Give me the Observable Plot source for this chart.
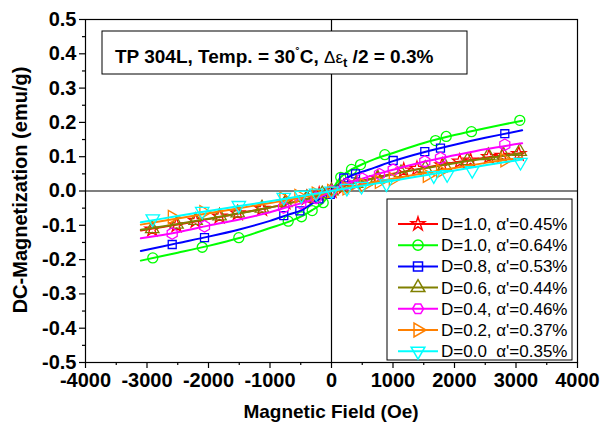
<!DOCTYPE html>
<html>
<head>
<meta charset="utf-8">
<script src="https://cdn.jsdelivr.net/npm/d3@7"></script>
<script src="https://cdn.jsdelivr.net/npm/@observablehq/plot@0.6"></script>
<style>
  body { margin: 0; background: white; }
  svg text { font-family: Arial, "Liberation Sans", sans-serif; }
</style>
</head>
<body>
<script>
// ---- tick values ----
const xTicks = [-4000, -3000, -2000, -1000, 0, 1000, 2000, 3000, 4000];
const xMinor = [-3500, -2500, -1500, -500, 500, 1500, 2500, 3500];
const yTicks = [-0.5, -0.4, -0.3, -0.2, -0.1, 0.0, 0.1, 0.2, 0.3, 0.4, 0.5];
const yMinor = [-0.45, -0.35, -0.25, -0.15, -0.05, 0.05, 0.15, 0.25, 0.35, 0.45];

// ---- series labels / styles ----
const seriesNames = ["D=1.0, α'=0.45%", "D=1.0, α'=0.64%", "D=0.8, α'=0.53%", "D=0.6, α'=0.44%", "D=0.4, α'=0.46%", "D=0.2, α'=0.37%", "D=0.0  α'=0.35%"];
const seriesColors = ["#ff0000", "#00ff00", "#0000ff", "#808000", "#ff00ff", "#ff8000", "#00ffff"];
const seriesSymbols = ["star", "circle", "square", "triangle", "hexagon", "triangle", "triangle"];
const seriesRotate = [0, 0, 0, 0, 0, 90, 180];

// ---- fitted curves ----
const fitH = [-3100, -2500, -2000, -1500, -1000, -700, -500, -300, -150, 0, 150, 300, 500, 700, 1000, 1500, 2000, 2500, 3100];
const fitRed     = [-0.115, -0.098, -0.082, -0.065, -0.048, -0.036, -0.028, -0.018, -0.010, 0, 0.011, 0.020, 0.030, 0.038, 0.050, 0.067, 0.083, 0.097, 0.111];
const fitGreen   = [-0.203, -0.180, -0.160, -0.137, -0.108, -0.090, -0.075, -0.054, -0.036, 0, 0.040, 0.060, 0.078, 0.093, 0.111, 0.140, 0.163, 0.183, 0.205];
const fitBlue    = [-0.175, -0.152, -0.133, -0.112, -0.087, -0.069, -0.057, -0.035, -0.018, 0.002, 0.025, 0.043, 0.056, 0.068, 0.087, 0.113, 0.135, 0.155, 0.177];
const fitOlive   = [-0.113, -0.096, -0.081, -0.065, -0.048, -0.036, -0.028, -0.018, -0.010, 0, 0.011, 0.020, 0.029, 0.037, 0.049, 0.066, 0.081, 0.095, 0.110];
const fitMagenta = [-0.138, -0.120, -0.101, -0.083, -0.062, -0.046, -0.036, -0.025, -0.014, 0, 0.014, 0.025, 0.036, 0.047, 0.062, 0.085, 0.104, 0.122, 0.139];
const fitOrange  = [-0.098, -0.080, -0.065, -0.050, -0.035, -0.026, -0.019, -0.012, -0.006, 0, 0.006, 0.012, 0.019, 0.026, 0.036, 0.052, 0.067, 0.082, 0.097];
const fitCyan    = [-0.091, -0.073, -0.058, -0.044, -0.030, -0.021, -0.015, -0.009, -0.005, 0, 0.005, 0.009, 0.015, 0.021, 0.030, 0.045, 0.060, 0.075, 0.092];

const redH = [-2915, -2520, -2210, -1820, -1525, -1130, -750, -400, -200, 0, 200, 400, 750, 1175, 1390, 1800, 2085, 2260, 2560, 2775, 3045];
const redM = [-0.112, -0.100, -0.087, -0.074, -0.065, -0.052, -0.033, -0.020, -0.010, 0, 0.012, 0.022, 0.038, 0.060, 0.065, 0.075, 0.086, 0.089, 0.099, 0.103, 0.108];
const greenH = [-2906, -2102, -1507, -704, -488, -314, -135, 0, 150, 325, 472, 867, 1691, 1865, 2276, 3062];
const greenM = [-0.195, -0.164, -0.136, -0.088, -0.075, -0.057, -0.034, 0, 0.040, 0.063, 0.077, 0.106, 0.147, 0.159, 0.173, 0.206];
const blueH = [-2590, -2065, -776, -515, -206, -20, 200, 390, 1003, 1517, 1772, 2818];
const blueM = [-0.156, -0.136, -0.072, -0.058, -0.023, -0.010, 0.038, 0.050, 0.089, 0.115, 0.125, 0.167];
const oliveH = [-2915, -2520, -2210, -1820, -1525, -1130, -750, -400, -150, 0, 150, 400, 750, 1130, 1525, 1840, 2210, 2550, 2800, 3060];
const oliveM = [-0.110, -0.097, -0.086, -0.073, -0.064, -0.050, -0.034, -0.020, -0.008, 0, 0.010, 0.022, 0.038, 0.053, 0.066, 0.074, 0.088, 0.103, 0.104, 0.115];
const magentaH = [-2590, -2065, -780, -500, -250, 0, 250, 500, 780, 1003, 1517, 1772, 2818];
const magentaM = [-0.124, -0.103, -0.048, -0.036, -0.020, 0, 0.020, 0.036, 0.049, 0.062, 0.086, 0.096, 0.135];
const orangeH = [-2590, -2077, -776, -532, -250, 0, 250, 532, 776, 1003, 1556, 1772, 2818];
const orangeM = [-0.076, -0.062, -0.023, -0.015, -0.008, 0, 0.008, 0.017, 0.027, 0.035, 0.045, 0.058, 0.090];
const cyanH = [-2906, -2102, -1507, -776, -488, -250, 0, 250, 488, 894, 1663, 1881, 2288, 3073];
const cyanM = [-0.081, -0.059, -0.042, -0.018, -0.012, -0.006, 0, 0.008, 0.014, 0.021, 0.045, 0.048, 0.060, 0.084];

const fits = [fitRed, fitGreen, fitBlue, fitOlive, fitMagenta, fitOrange, fitCyan];
const ptsH = [redH, greenH, blueH, oliveH, magentaH, orangeH, cyanH];
const ptsM = [redM, greenM, blueM, oliveM, magentaM, orangeM, cyanM];
const markerR = [4.5, 5, 4.5, 5, 5, 5, 5];

const FONT = 'Arial, "Liberation Sans", sans-serif';

const marks = [
  Plot.ruleX([0], {stroke: "black", strokeWidth: 1.2}),
  Plot.ruleY([0], {stroke: "black", strokeWidth: 1.2}),
];
seriesNames.forEach((name, i) => {
  const line = fitH.map((h, j) => ({H: h, M: fits[i][j]}));
  const pts = ptsH[i].map((h, j) => ({H: h, M: ptsM[i][j]}));
  marks.push(Plot.line(line, {x: "H", y: "M", stroke: seriesColors[i], strokeWidth: 2, curve: "catmull-rom"}));
  marks.push(Plot.dot(pts, {x: "H", y: "M", symbol: () => seriesSymbols[i], stroke: seriesColors[i], fill: "none", r: markerR[i], strokeWidth: 1.3, rotate: seriesRotate[i]}));
});
marks.push(
  Plot.frame({stroke: "black", strokeWidth: 1.2}),
  Plot.axisX({ticks: xTicks, tickFormat: d => String(d), tickSize: 6, tickPadding: 4, label: null, strokeWidth: 1.2}),
  Plot.axisX({ticks: xMinor, tickFormat: () => "", tickSize: 3, label: null, strokeWidth: 1.2}),
  Plot.axisY({ticks: yTicks, tickFormat: d => d.toFixed(1), tickSize: 6, tickPadding: 3, label: null, strokeWidth: 1.2}),
  Plot.axisY({ticks: yMinor, tickFormat: () => "", tickSize: 3, label: null, strokeWidth: 1.2})
);

const svg = Plot.plot({
  width: 607,
  height: 426,
  marginLeft: 85,
  marginRight: 30,
  marginTop: 19,
  marginBottom: 64,
  x: {domain: [-4000, 4000]},
  y: {domain: [-0.5, 0.5]},
  style: {fontFamily: FONT, color: "black", background: "white"},
  marks
});
document.body.append(svg);

const s = d3.select(svg);
// enlarge Plot's own tick labels (only texts present so far are axis labels)
s.selectAll("text").style("font-size", "20px").style("font-weight", "bold").attr("fill", "black");

// axis titles
s.append("text").attr("x", 331).attr("y", 418).attr("text-anchor", "middle")
  .attr("font-size", 19).attr("font-weight", "bold").attr("fill", "black").text("Magnetic Field (Oe)");
s.append("text").attr("transform", "translate(27,190) rotate(-90)").attr("text-anchor", "middle")
  .attr("font-size", 20).attr("font-weight", "bold").attr("fill", "black").text("DC-Magnetization (emu/g)");

// title box
s.append("rect").attr("x", 102).attr("y", 31).attr("width", 365).attr("height", 43)
  .attr("fill", "white").attr("stroke", "black").attr("stroke-width", 1);
const t = s.append("text").attr("x", 115).attr("y", 63).attr("text-anchor", "start")
  .attr("font-size", 19).attr("font-weight", "bold").attr("fill", "black");
t.append("tspan").text("TP 304L, Temp. = 30");
t.append("tspan").attr("font-size", 13).attr("dy", -6).text("˚");
t.append("tspan").attr("dy", 6).text("C, ");
t.append("tspan").attr("font-weight", "normal").attr("font-size", 17).text("Δε");
t.append("tspan").attr("font-size", 13).attr("dy", 4).text("t");
t.append("tspan").attr("dy", -4).text(" /2 = 0.3%");

// legend
const lg = s.append("g");
lg.append("rect").attr("x", 387).attr("y", 199).attr("width", 185).attr("height", 161)
  .attr("fill", "white").attr("stroke", "black").attr("stroke-width", 1);
const hexPath = r => {
  const p = [];
  for (let k = 0; k < 6; k++) { const a = Math.PI / 3 * k; p.push([r * Math.cos(a), r * Math.sin(a)]); }
  return "M" + p.map(q => q.join(",")).join("L") + "Z";
};
const symType = {star: d3.symbolStar, circle: d3.symbolCircle, square: d3.symbolSquare, triangle: d3.symbolTriangle};
seriesNames.forEach((name, i) => {
  const y = 224 + i * 21.2;
  lg.append("line").attr("x1", 398).attr("x2", 438).attr("y1", y).attr("y2", y)
    .attr("stroke", seriesColors[i]).attr("stroke-width", 2);
  const d = seriesSymbols[i] === "hexagon" ? hexPath(5.5) : d3.symbol(symType[seriesSymbols[i]], Math.PI * (seriesSymbols[i] === "star" ? 18 : 26))();
  lg.append("path").attr("d", d).attr("transform", `translate(418,${y}) rotate(${seriesRotate[i]})`)
    .attr("fill", "none").attr("stroke", seriesColors[i]).attr("stroke-width", 1.5);
  lg.append("text").attr("x", 441).attr("y", y + 6).attr("text-anchor", "start")
    .attr("font-size", 17).attr("fill", "black").text(name);
});
</script>
</body>
</html>
